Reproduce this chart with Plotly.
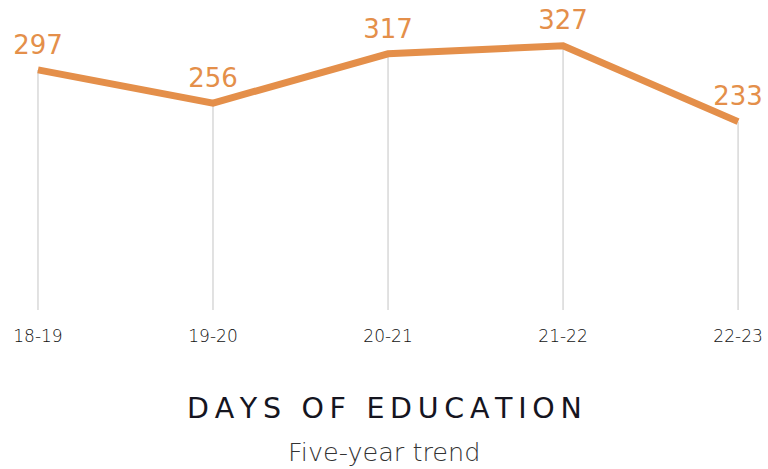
import plotly.graph_objects as go

seasons = ['18-19', '19-20', '20-21', '21-22', '22-23']
days = [297, 256, 317, 327, 233]

ORANGE = '#E48F4A'
GRID = '#D2D2D2'
FONT = 'DejaVu Sans'

TS = '\u2009'  # thin space used as letter spacing in the title
title = TS.join('DAYS OF EDUCATION')

fig = go.Figure()

# thin drop lines from each point down to zero
fig.add_trace(go.Scatter(
    x=seasons, y=days, mode='markers',
    marker=dict(size=1, color='rgba(0,0,0,0)'),
    error_y=dict(type='data', symmetric=False, array=[0] * len(days),
                 arrayminus=days, color=GRID, thickness=1.3, width=0),
    hoverinfo='skip', showlegend=False,
))

fig.add_trace(go.Scatter(
    x=seasons, y=days, mode='lines+markers+text',
    line=dict(color=ORANGE, width=7),
    marker=dict(size=14, color='rgba(0,0,0,0)'),
    text=[str(v) for v in days], textposition='top center',
    textfont=dict(family=FONT, size=26, color=ORANGE),
    cliponaxis=False, showlegend=False,
))

fig.add_annotation(text=title, xref='paper', yref='paper',
                   x=0.5, y=-0.337, yanchor='middle', showarrow=False,
                   font=dict(family=FONT, size=28.5, color='#15151f'))
fig.add_annotation(text='Five-year trend', xref='paper', yref='paper',
                   x=0.5, y=-0.488, yanchor='middle', showarrow=False,
                   font=dict(family=FONT, size=25.5, color='#333333', weight=300))

fig.update_layout(
    width=768, height=469,
    margin=dict(l=0, r=0, t=19, b=159),
    paper_bgcolor='white', plot_bgcolor='white',
    xaxis=dict(type='category', range=[-0.217, 4.171], showgrid=False,
               zeroline=False, showline=False, ticks='',
               tickfont=dict(family=FONT, size=17, color='#111111', weight=300),
               ticklabelstandoff=14),
    yaxis=dict(range=[0, 360], visible=False),
)

# drop the default 8px body margin so the figure fills the window
fig.write_html('out.html', config={'displayModeBar': False},
               post_script="document.body.style.margin='0';"
                           "document.body.style.overflow='hidden';")
